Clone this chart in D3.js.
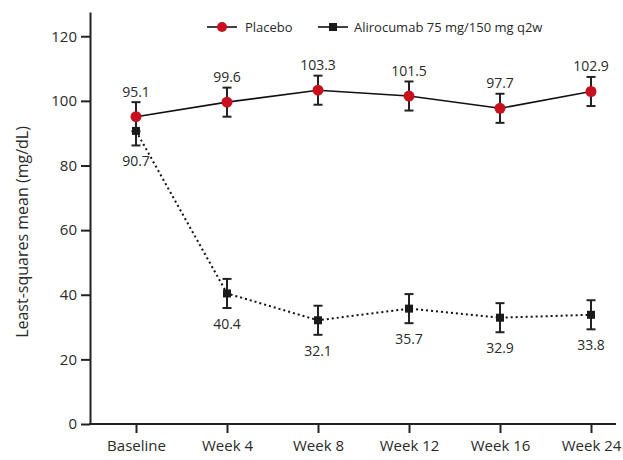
<!doctype html>
<html lang="en">

<head>
  <meta charset="UTF-8">
  <title>LDL least-squares mean</title>
  <style type="text/css">
    * {
      padding: 0;
      margin: 0;
    }

    body {
      background: #fff;
    }

    text {
      font-family: "Open Sans", sans-serif;
      fill: #2a2a2a;
    }

    .axis path,
    .axis line {
      stroke: #222;
      stroke-width: 2;
    }

    .axis text {
      font-size: 15px;
      fill: #2a2a2a;
    }
  </style>
  <script src="https://cdn.jsdelivr.net/npm/d3@7"></script>
</head>

<body>
  <svg width="623" height="460"></svg>

  <script>
    // data
    var categories = ["Baseline", "Week 4", "Week 8", "Week 12", "Week 16", "Week 24"];
    var placebo = [95.1, 99.6, 103.3, 101.5, 97.7, 102.9];
    var alirocumab = [90.7, 40.4, 32.1, 35.7, 32.9, 33.8];
    var errPlacebo = [4.5, 4.5, 4.5, 4.5, 4.5, 4.5];
    var errAlirocumab = [4.5, 4.5, 4.5, 4.5, 4.5, 4.5];
    var yTicks = [0, 20, 40, 60, 80, 100, 120];
    var seriesNames = ["Placebo", "Alirocumab 75 mg/150 mg q2w"];

    var svg = d3.select("svg");
    var red = "#c8101e";

    var x = d3.scalePoint()
      .domain(categories)
      .range([136, 591]);

    var y = d3.scaleLinear()
      .domain([0, 127.5])
      .range([424, 12]);

    // y axis
    var yAxis = d3.axisLeft(y)
      .tickValues(yTicks)
      .tickSize(9)
      .tickSizeOuter(0)
      .tickPadding(4);

    svg.append("g")
      .attr("class", "axis")
      .attr("transform", "translate(90,0)")
      .call(yAxis);

    // x axis
    var xAxis = d3.axisBottom(x)
      .tickSize(9)
      .tickSizeOuter(0)
      .tickPadding(7);

    var gx = svg.append("g")
      .attr("class", "axis")
      .attr("transform", "translate(0," + y(0) + ")")
      .call(xAxis);
    gx.select(".domain").remove();
    gx.append("line")
      .attr("x1", 89)
      .attr("x2", 616);

    // y title
    svg.append("text")
      .attr("transform", "translate(28," + 232 + ") rotate(-90)")
      .attr("text-anchor", "middle")
      .style("font-size", "16px")
      .text("Least-squares mean (mg/dL)");

    function drawSeries(values, errs, dash, above) {
      var line = d3.line()
        .x(function (d, i) { return x(categories[i]); })
        .y(function (d) { return y(d); });

      svg.append("path")
        .datum(values)
        .attr("d", line)
        .attr("fill", "none")
        .attr("stroke", "#111")
        .attr("stroke-width", dash ? 2 : 1.6)
        .attr("stroke-dasharray", dash || null);

      var g = svg.append("g");
      values.forEach(function (v, i) {
        var cx = x(categories[i]);
        var e = errs[i];
        g.append("line")
          .attr("x1", cx).attr("x2", cx)
          .attr("y1", y(v + e)).attr("y2", y(v - e))
          .attr("stroke", "#222").attr("stroke-width", 2);
        [v + e, v - e].forEach(function (c) {
          g.append("line")
            .attr("x1", cx - 4.5).attr("x2", cx + 4.5)
            .attr("y1", y(c)).attr("y2", y(c))
            .attr("stroke", "#222").attr("stroke-width", 2);
        });
        g.append("text")
          .attr("x", cx)
          .attr("y", above ? y(v + e) - 5.5 : y(v - e) + 21)
          .attr("text-anchor", "middle")
          .style("font-size", "14px")
          .text(v.toFixed(1));
      });
    }

    drawSeries(alirocumab, errAlirocumab, "2,3", false);
    drawSeries(placebo, errPlacebo, null, true);

    // markers
    svg.append("g").selectAll("rect")
      .data(alirocumab)
      .enter()
      .append("rect")
      .attr("x", function (d, i) { return x(categories[i]) - 4; })
      .attr("y", function (d) { return y(d) - 4; })
      .attr("width", 8)
      .attr("height", 8)
      .attr("fill", "#1a1a1a");

    svg.append("g").selectAll("circle")
      .data(placebo)
      .enter()
      .append("circle")
      .attr("cx", function (d, i) { return x(categories[i]); })
      .attr("cy", function (d) { return y(d); })
      .attr("r", 5.5)
      .attr("fill", red);

    // legend
    var lg = svg.append("g");
    lg.append("line").attr("x1", 207).attr("x2", 237).attr("y1", 27).attr("y2", 27)
      .attr("stroke", "#111").attr("stroke-width", 1.6);
    lg.append("circle").attr("cx", 222).attr("cy", 27).attr("r", 5).attr("fill", red);
    lg.append("text").attr("x", 245).attr("y", 32).style("font-size", "13px").text(seriesNames[0]);

    lg.append("line").attr("x1", 318).attr("x2", 348).attr("y1", 27).attr("y2", 27)
      .attr("stroke", "#111").attr("stroke-width", 1.6);
    lg.append("rect").attr("x", 329).attr("y", 23).attr("width", 8).attr("height", 8).attr("fill", "#1a1a1a");
    lg.append("text").attr("x", 354).attr("y", 32).style("font-size", "13px").text(seriesNames[1]);
  </script>
</body>

</html>
